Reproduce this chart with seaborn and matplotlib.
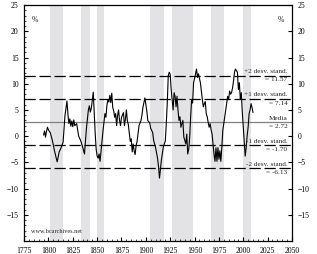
import matplotlib
matplotlib.use("Agg")
import matplotlib.pyplot as plt
import seaborn as sns
from matplotlib.ticker import MultipleLocator
import matplotlib.transforms as mtransforms

# serie (anni, valori %)
years = [1795, 1796, 1797, 1798, 1799, 1800, 1802, 1804, 1806, 1808, 1809, 1811, 1813, 1815,
         1816, 1817, 1819, 1820, 1821, 1822, 1823, 1824, 1825, 1826, 1827, 1829, 1831, 1833,
         1835, 1837, 1838, 1839, 1841, 1842, 1843, 1844, 1846, 1847, 1848, 1849, 1850, 1851,
         1852, 1853, 1854, 1856, 1858, 1859, 1860, 1861, 1862, 1863, 1864, 1865, 1866, 1867,
         1868, 1869, 1870, 1871, 1872, 1873, 1874, 1875, 1877, 1878, 1879, 1880, 1881, 1882,
         1884, 1885, 1886, 1887, 1888, 1889, 1890, 1891, 1893, 1895, 1896, 1897, 1899, 1900,
         1901, 1902, 1904, 1905, 1907, 1908, 1910, 1912, 1913, 1914, 1916, 1918, 1920, 1921,
         1922, 1923, 1924, 1925, 1926, 1927, 1928, 1929, 1930, 1931, 1932, 1933, 1934, 1935,
         1936, 1937, 1938, 1939, 1940, 1941, 1942, 1943, 1944, 1945, 1946, 1947, 1948, 1949,
         1950, 1951, 1952, 1953, 1954, 1955, 1956, 1957, 1958, 1959, 1960, 1961, 1962, 1963,
         1964, 1965, 1966, 1967, 1968, 1969, 1970, 1971, 1972, 1973, 1974, 1975, 1976, 1977,
         1978, 1979, 1980, 1981, 1982, 1983, 1984, 1985, 1986, 1987, 1988, 1989, 1990, 1991,
         1992, 1993, 1994, 1995, 1996, 1997, 1998, 1999, 2000, 2001, 2002, 2003, 2004, 2005,
         2006, 2007, 2008, 2009, 2010]
values = [0.2, 1.0, -0.2, 0.9, 1.7, 1.2, 0.6, -0.8, -2.6, -4.2, -4.9, -3.0, -2.2, -1.2,
          1.5, 4.0, 6.7, 4.2, 2.4, 3.3, 1.9, 2.9, 1.8, 3.1, 2.0, 2.4, 0.0, -0.8,
          -2.0, -3.4, -1.0, 1.5, 5.0, 5.8, 4.6, 5.3, 8.4, 4.5, 0.5, -2.5, -3.8, -4.2,
          -3.4, -4.8, -2.8, 1.0, 4.3, 3.6, 5.8, 7.0, 6.5, 7.8, 6.4, 8.2, 5.5, 4.8,
          3.6, 4.3, 2.0, 4.0, 5.0, 3.0, 2.0, 3.6, 4.5, 2.0, 3.2, 5.0, 3.0, 2.2,
          -1.0, -0.5, -3.0, -1.5, -2.8, -3.5, -1.8, -1.0, 2.0, 3.0, 4.0, 5.5, 7.3, 6.0,
          4.8, 3.0, 2.5, 1.5, 0.7, -0.8, -2.2, -4.2, -5.8, -8.0, -4.5, -2.0, -0.9, 2.5,
          6.4, 11.5, 12.2, 11.8, 8.9, 7.0, 5.0, 8.3, 7.6, 5.6, 7.6, 5.0, 3.0, 3.7,
          1.7, 2.4, 3.0, -0.2, -0.8, -1.5, 0.4, -3.4, -2.5, -0.2, 3.7, 7.0, 6.3, 10.2,
          11.0, 11.9, 12.8, 11.2, 11.9, 11.0, 10.2, 8.6, 7.0, 5.6, 6.2, 6.6, 4.3, 3.7,
          2.6, 1.7, 2.4, 1.2, 0.4, -1.5, -3.5, -4.8, -2.2, -4.8, -2.2, -4.4, -2.8, -4.8,
          -2.2, 1.1, 2.4, 3.8, 5.0, 6.3, 7.6, 7.0, 8.6, 8.0, 8.3, 9.2, 10.5, 12.2,
          12.8, 12.5, 12.2, 8.9, 10.2, 7.0, 8.3, 4.6, 1.7, -1.2, -3.8, -2.2, 0.1, 1.7,
          4.3, 5.0, 6.2, 5.5, 4.5]

# periodi ombreggiati
shade_start = [1802, 1833.5, 1850, 1904, 1927, 1967, 2000]
shade_end = [1815, 1842.5, 1857, 1919, 1948, 1980.5, 2008]

# linee orizzontali: media e deviazioni standard
band_names = ["+2 desv. stand.", "+1 desv. stand.", "Media", "-1 desv. stand.", "-2 desv. stand."]
band_values = [11.57, 7.14, 2.72, -1.70, -6.13]

sns.set_style("ticks")
plt.rcParams['font.family'] = ['Liberation Serif', 'DejaVu Serif']
plt.rcParams['font.size'] = 5.5

fig, ax = plt.subplots(figsize=(3.17, 2.54), dpi=100)
fig.subplots_adjust(left=0.076, right=0.921, bottom=0.051, top=0.980)

for s, e in zip(shade_start, shade_end):
    ax.axvspan(s, e, color='#e3e3e5', lw=0, zorder=0)

for name, v in zip(band_names, band_values):
    if name == "Media":
        ax.axhline(v, color='#808080', lw=0.9, zorder=1)
    else:
        ax.axhline(v, color='black', lw=0.9, ls=(0, (9, 3)), zorder=1)

sns.lineplot(x=years, y=values, color='black', lw=0.8, estimator=None, ax=ax, zorder=3)

trans = mtransforms.blended_transform_factory(ax.transAxes, ax.transData)
for name, v in zip(band_names, band_values):
    ax.text(0.983, v + 0.25, name, transform=trans, ha='right', va='bottom', fontsize=5.2)
    ax.text(0.983, v - 0.35, "= %.2f" % v, transform=trans, ha='right', va='top', fontsize=5.2)

ax.text(0.04, 0.955, "%", transform=ax.transAxes, ha='center', va='top', fontsize=5.5)
ax.text(0.96, 0.955, "%", transform=ax.transAxes, ha='center', va='top', fontsize=5.5)
ax.text(0.025, 0.03, "www.bcarchives.net", transform=ax.transAxes, ha='left', va='bottom', fontsize=4.5)

ax.set_xlim(1775, 2050)
ax.set_ylim(-20, 25)
ax.set_xticks(list(range(1775, 2051, 25)))
ax.set_yticks(list(range(-15, 26, 5)))
ax.xaxis.set_minor_locator(MultipleLocator(5))
ax.yaxis.set_minor_locator(MultipleLocator(1))
ax.set_xlabel("")
ax.set_ylabel("")

for sp in ax.spines.values():
    sp.set_visible(True)
    sp.set_linewidth(0.9)
    sp.set_color('black')

ax.tick_params(which='major', direction='in', length=3, width=0.8, pad=4,
               left=True, right=True, labelleft=True, labelright=True, top=False, bottom=True,
               labelsize=5.5, colors='black')
ax.tick_params(which='minor', direction='in', length=1.5, width=0.6,
               left=True, right=False, top=False, bottom=True)

plt.savefig("out.png", dpi=100)
